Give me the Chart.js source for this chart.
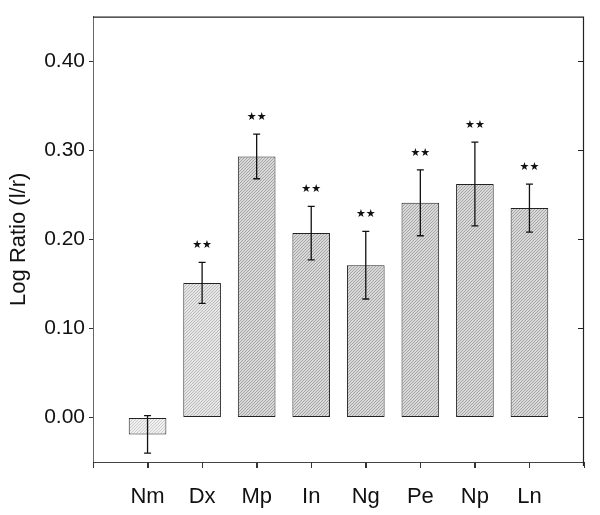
<!DOCTYPE html>
<html>
<head>
<meta charset="utf-8">
<script src="https://cdn.jsdelivr.net/npm/chart.js@4/dist/chart.umd.min.js"></script>
<style>
html,body{margin:0;padding:0;background:#fff;}
canvas{display:block;}
</style>
</head>
<body>
<canvas id="c" width="600" height="515"></canvas>
<script>
// ---- data ----
const categories = ['Nm', 'Dx', 'Mp', 'In', 'Ng', 'Pe', 'Np', 'Ln'];
const values = [-0.019, 0.151, 0.293, 0.207, 0.171, 0.241, 0.262, 0.235];
const errors = [0.021, 0.023, 0.025, 0.030, 0.038, 0.037, 0.047, 0.027];
const significant = [false, true, true, true, true, true, true, true];
const yTicks = [0.00, 0.10, 0.20, 0.30, 0.40];
const xTickPositions = [0, 1, 2, 3, 4, 5, 6, 7, 8, 9];
const yTitle = 'Log Ratio (l/r)';
const starLabel = '★★';

// ---- patterns ----
function makePattern(base, line) {
  const p = document.createElement('canvas');
  p.width = 6; p.height = 6;
  const g = p.getContext('2d');
  g.fillStyle = base; g.fillRect(0, 0, 6, 6);
  g.strokeStyle = line; g.lineWidth = 1;
  for (let i = -6; i <= 6; i += 3) {
    g.beginPath(); g.moveTo(i, 6); g.lineTo(i + 6, 0); g.stroke();
  }
  return document.getElementById('c').getContext('2d').createPattern(p, 'repeat');
}
const lightPat = makePattern('#f0f0f0', '#cdcdcd');
const midPat = makePattern('#e6e6e6', '#bababa');
const darkPat = makePattern('#d8d8d8', '#a6a6a6');

const FONT = "'Liberation Sans', Arial, sans-serif";

const decorPlugin = {
  id: 'decor',
  afterDatasetsDraw(chart) {
    const ctx = chart.ctx;
    const y = chart.scales.y;
    const meta = chart.getDatasetMeta(0);
    ctx.save();
    ctx.strokeStyle = '#111';
    ctx.lineWidth = 1.3;
    meta.data.forEach((bar, i) => {
      const x = bar.x;
      const hi = y.getPixelForValue(values[i] + errors[i]);
      const lo = y.getPixelForValue(values[i] - errors[i]);
      ctx.beginPath();
      ctx.moveTo(x, hi); ctx.lineTo(x, lo);
      ctx.moveTo(x - 3.5, hi); ctx.lineTo(x + 3.5, hi);
      ctx.moveTo(x - 3.5, lo); ctx.lineTo(x + 3.5, lo);
      ctx.stroke();
      if (significant[i]) {
        ctx.fillStyle = '#111';
        ctx.font = "11px 'DejaVu Sans'";
        ctx.textAlign = 'center';
        ctx.textBaseline = 'middle';
        ctx.fillText(starLabel, x, hi - 17);
      }
    });
    ctx.restore();
  },
  afterDraw(chart) {
    const ctx = chart.ctx;
    const a = chart.chartArea;
    const y = chart.scales.y;
    const xs = chart.scales.x;
    ctx.save();
    ctx.strokeStyle = '#222';
    ctx.lineWidth = 1.2;
    ctx.beginPath();
    ctx.moveTo(a.left, a.top + 0.5); ctx.lineTo(a.right, a.top + 0.5);
    ctx.moveTo(a.right - 0.5, a.top); ctx.lineTo(a.right - 0.5, a.bottom + 4);
    yTicks.forEach(v => {
      const py = Math.round(y.getPixelForValue(v)) + 0.5;
      ctx.moveTo(a.right - 6, py); ctx.lineTo(a.right, py);
    });
    ctx.stroke();
    ctx.strokeStyle = '#333';
    ctx.lineWidth = 1;
    ctx.beginPath();
    xTickPositions.forEach(v => {
      const px = Math.round(xs.getPixelForValue(v)) + 0.5;
      ctx.moveTo(px, a.bottom); ctx.lineTo(px, a.bottom + 6);
    });
    ctx.stroke();
    ctx.restore();
  }
};

new Chart(document.getElementById('c'), {
  type: 'bar',
  data: {
    datasets: [{
      data: categories.map((c, i) => ({ x: i + 1, y: values[i] })),
      backgroundColor: categories.map((c, i) => i === 0 ? lightPat : (i === 1 ? midPat : darkPat)),
      borderColor: '#222',
      borderWidth: 1,
      borderSkipped: false,
      barPercentage: 0.69,
      categoryPercentage: 1
    }]
  },
  options: {
    responsive: false,
    devicePixelRatio: 1,
    animation: false,
    layout: { padding: { top: 7, right: 12, bottom: 0, left: 0 } },
    plugins: { legend: { display: false }, tooltip: { enabled: false } },
    scales: {
      x: {
        type: 'linear',
        min: 0, max: 9,
        offset: false,
        afterBuildTicks: s => { s.ticks = xTickPositions.map(v => ({ value: v })); },
        afterFit: s => { s.height = 53; },
        ticks: {
          autoSkip: false, maxRotation: 0,
          callback: v => categories[v - 1] ?? '',
          font: { family: FONT, size: 22 },
          color: '#111',
          padding: 16
        },
        grid: { offset: false, drawOnChartArea: false, tickLength: 6, color: '#333', lineWidth: 1 },
        border: { color: '#444', width: 1 }
      },
      y: {
        min: -0.05, max: 0.45,
        afterBuildTicks: s => { s.ticks = yTicks.map(v => ({ value: v })); },
        afterFit: s => { s.width = 93; },
        ticks: {
          callback: v => v.toFixed(2),
          font: { family: FONT, size: 21 },
          color: '#111',
          padding: 4
        },
        grid: { drawOnChartArea: false, tickLength: 4, color: '#333', lineWidth: 1 },
        border: { color: '#666', width: 1 },
        title: {
          display: true,
          text: yTitle,
          font: { family: FONT, size: 22 },
          color: '#111',
          padding: { top: 6, bottom: 0 }
        }
      }
    }
  },
  plugins: [decorPlugin]
});
</script>
</body>
</html>
